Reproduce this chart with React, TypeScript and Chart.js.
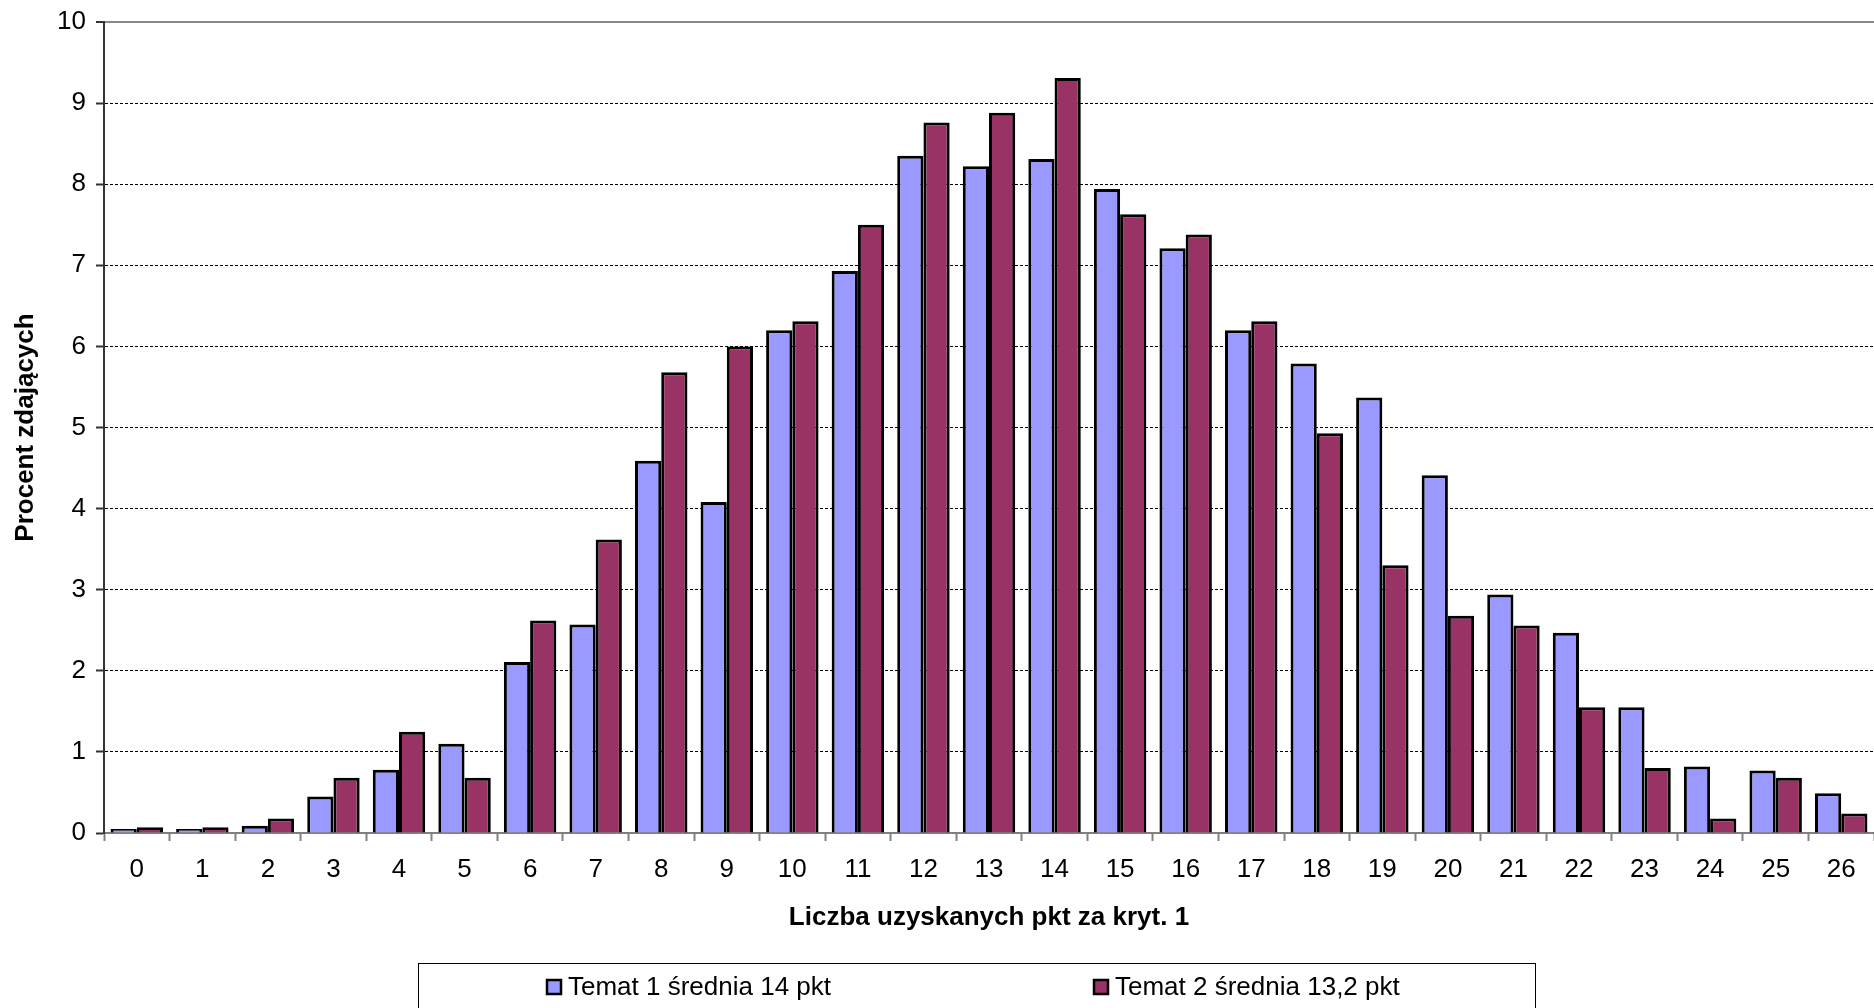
import React, { useEffect, useRef } from 'react';
import { Chart, registerables } from 'chart.js';

Chart.register(...registerables);

const FONT = "'Liberation Sans', Arial, Helvetica, sans-serif";

const categories = ['0', '1', '2', '3', '4', '5', '6', '7', '8', '9', '10', '11', '12', '13', '14', '15', '16', '17', '18', '19', '20', '21', '22', '23', '24', '25', '26'];

const temat1 = [0.05, 0.05, 0.09, 0.45, 0.78, 1.1, 2.11, 2.57, 4.59, 4.08, 6.2, 6.93, 8.35, 8.22, 8.31, 7.94, 7.21, 6.2, 5.79, 5.37, 4.41, 2.94, 2.47, 1.55, 0.82, 0.77, 0.49];

const temat2 = [0.07, 0.07, 0.18, 0.68, 1.25, 0.68, 2.62, 3.62, 5.68, 6.0, 6.31, 7.5, 8.76, 8.88, 9.31, 7.63, 7.38, 6.31, 4.93, 3.3, 2.68, 2.56, 1.55, 0.8, 0.18, 0.68, 0.24];

const seriesLabels = ['Temat 1 średnia 14 pkt', 'Temat 2 średnia 13,2 pkt'];
const seriesColors = ['#9999FF', '#993366'];

const yMin = 0;
const yMax = 10;
const yStep = 1;

const xTitle = 'Liczba uzyskanych pkt za kryt. 1';
const yTitle = 'Procent zdających';

const legendPlugin = {
  id: 'boxLegend',
  afterDraw(chart: any) {
    const ctx = chart.ctx;
    ctx.save();
    ctx.strokeStyle = '#000';
    ctx.lineWidth = 1;
    ctx.strokeRect(418.5, 963.5, 1117, 80);
    const xs = [546, 1093];
    chart.data.datasets.forEach((ds: any, i: number) => {
      const x = xs[i];
      const y = 979;
      ctx.fillStyle = ds.backgroundColor;
      ctx.fillRect(x, y, 16, 16);
      ctx.lineWidth = 2.5;
      ctx.strokeStyle = '#000';
      ctx.strokeRect(x + 1, y + 1, 14, 14);
      ctx.fillStyle = '#000';
      ctx.font = `26px ${FONT}`;
      ctx.textBaseline = 'middle';
      ctx.textAlign = 'left';
      ctx.fillText(ds.label, x + 22, 988);
    });
    ctx.restore();
  },
};

export default function App() {
  const canvasRef = useRef<HTMLCanvasElement | null>(null);

  useEffect(() => {
    if (!canvasRef.current) return;
    const chart = new Chart(canvasRef.current, {
      type: 'bar',
      data: {
        labels: categories,
        datasets: [
          {
            label: seriesLabels[0],
            data: temat1,
            backgroundColor: seriesColors[0],
            borderColor: '#000',
            borderWidth: 3,
            barPercentage: 1,
            categoryPercentage: 0.8,
          },
          {
            label: seriesLabels[1],
            data: temat2,
            backgroundColor: seriesColors[1],
            borderColor: '#000',
            borderWidth: 3,
            barPercentage: 1,
            categoryPercentage: 0.8,
          },
        ],
      },
      options: {
        responsive: true,
        maintainAspectRatio: false,
        animation: false,
        layout: { padding: { top: 22, right: 0, left: 0, bottom: 0 } },
        plugins: {
          legend: { display: false },
          tooltip: { enabled: false },
        },
        scales: {
          x: {
            offset: true,
            grid: {
              display: true,
              drawOnChartArea: false,
              drawTicks: true,
              tickLength: 8,
              tickColor: '#808080',
              tickWidth: 2,
              offset: true,
            },
            border: { display: true, color: '#808080', width: 2 },
            ticks: {
              color: '#000',
              font: { family: FONT, size: 26 },
              padding: 13,
              maxRotation: 0,
              autoSkip: false,
            },
            title: {
              display: true,
              text: xTitle,
              color: '#000',
              font: { family: FONT, size: 26, weight: 'bold' },
              padding: { top: 0, bottom: 75 },
            },
            afterFit: (s: any) => {
              s.height = 175;
              s.paddingLeft = 0;
              s.paddingRight = 0;
            },
          },
          y: {
            min: yMin,
            max: yMax,
            ticks: {
              stepSize: yStep,
              color: '#000',
              font: { family: FONT, size: 26 },
              padding: 10,
            },
            grid: {
              color: (c: any) =>
                c.tick && c.tick.value === 0 ? 'rgba(0,0,0,0)' : c.tick && c.tick.value === 10 ? '#888888' : '#000',
              lineWidth: (c: any) => (c.tick && c.tick.value === 10 ? 2 : 1),
              tickColor: '#333333',
              tickLength: 8,
              tickWidth: 2,
              tickBorderDash: [],
            },
            border: {
              display: true,
              color: '#333333',
              width: 2,
              dash: (c: any) => (c.tick && c.tick.value === 10 ? [] : [3, 2]),
            },
            title: {
              display: true,
              text: yTitle,
              color: '#000',
              font: { family: FONT, size: 26, weight: 'bold' },
              padding: { top: 10, bottom: 0 },
            },
            afterFit: (s: any) => {
              s.width = 104;
              s.paddingTop = 10;
              s.paddingBottom = 10;
            },
          },
        },
      } as any,
      plugins: [legendPlugin],
    });
    return () => chart.destroy();
  }, []);

  return (
    <div style={{ position: 'absolute', left: 0, top: 0, width: 1874, height: 1008, background: '#fff' }}>
      <canvas ref={canvasRef} />
    </div>
  );
}
